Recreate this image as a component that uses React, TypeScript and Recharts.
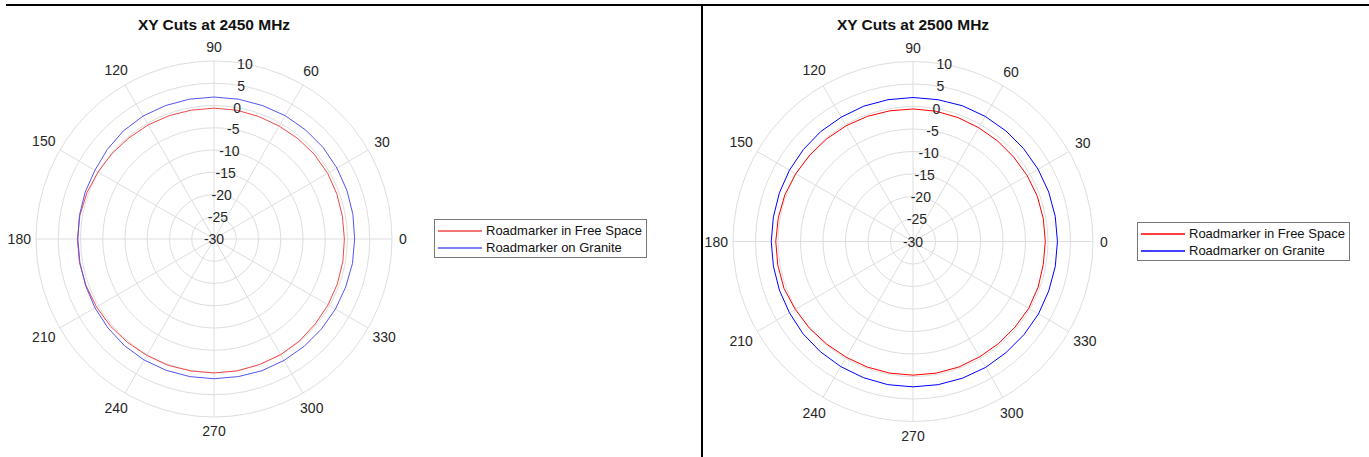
import React from 'react'
import { RadarChart, Radar, PolarGrid, PolarAngleAxis, PolarRadiusAxis, Legend } from 'recharts'

// angles in degrees, counter-clockwise from east
const angles = [0, 10, 20, 30, 40, 50, 60, 70, 80, 90, 100, 110, 120, 130, 140, 150, 160, 170,
	180, 190, 200, 210, 220, 230, 240, 250, 260, 270, 280, 290, 300, 310, 320, 330, 340, 350]

const freeSpace2450 = [-0.7, -0.7, -0.6, -0.5, -0.5, -0.6, -0.7, -0.7, -0.6, -0.6, -0.6, -0.5,
	-0.4, -0.3, -0.1, 0.1, 0.4, 0.6, 0.7, 0.7, 0.6, 0.5, 0.4, 0.3, 0.2, 0.2, 0.1, 0.1, 0.1, 0.0,
	0.0, -0.1, -0.3, -0.4, -0.5, -0.6]
const granite2450 = [1.6, 1.7, 1.8, 1.9, 2.0, 2.0, 2.0, 1.9, 1.9, 1.9, 1.9, 1.9, 1.9, 1.7, 1.3,
	0.9, 0.8, 0.7, 0.6, 0.6, 0.7, 0.9, 1.1, 1.3, 1.4, 1.4, 1.4, 1.4, 1.4, 1.5, 1.5, 1.5, 1.5, 1.5,
	1.5, 1.6]

const freeSpace2500 = [-0.6, -0.6, -0.6, -0.7, -0.8, -0.8, -0.8, -0.7, -0.6, -0.55, -0.5, -0.4,
	-0.3, -0.2, -0.1, 0.1, 0.3, 0.4, 0.5, 0.5, 0.5, 0.2, 0.0, -0.2, -0.3, -0.3, -0.3, -0.3, -0.3,
	-0.3, -0.4, -0.4, -0.4, -0.3, -0.4, -0.6]
const granite2500 = [2.1, 2.1, 2.1, 2.1, 2.1, 2.1, 2.1, 2.1, 2.0, 2.0, 2.0, 2.0, 1.9, 1.9, 1.8,
	1.7, 1.6, 1.5, 1.5, 1.5, 1.6, 1.7, 1.9, 2.0, 2.1, 2.2, 2.3, 2.3, 2.3, 2.3, 2.3, 2.2, 2.2, 2.2,
	2.1, 2.1]

const radiusTicks = [-30, -25, -20, -15, -10, -5, 0, 5, 10]
const spokeAngles = [0, 30, 60, 90, 120, 150, 180, 210, 240, 270, 300, 330]
const seriesNames = ['Roadmarker in Free Space', 'Roadmarker on Granite']

const FONT = '"Liberation Sans", Arial, Helvetica, sans-serif'
const GRID = '#dedede'
const LABEL = '#262626'

// recharts goes clockwise by default, so feed the points in reverse order
// and sweep 0 -> -360 so the plot reads counter-clockwise like MATLAB
function buildRows(a: number[], b: number[]) {
	const rows = []
	for (let i = 0; i < angles.length; i++) {
		const k = (angles.length - i) % angles.length
		rows.push({ angle: angles[k], free: a[k], granite: b[k] })
	}
	return rows
}

const makeAngleTick = (cx: number, cy: number, r: number) => (props: any) => {
	const { payload } = props
	const v = Number(payload.value)
	if (v % 30 !== 0) return null
	const rad = (payload.coordinate * Math.PI) / 180
	const c = Math.cos(rad)
	const s = Math.sin(rad)
	const w = String(v).length * 5.8
	const d = r + 8 + Math.abs(c) * w / 2 + Math.abs(s) * 6
	return (
		<text x={cx + d * c} y={cy - d * s} textAnchor="middle" dominantBaseline="central"
			fill={LABEL} fontSize={14} fontFamily={FONT}>
			{v}
		</text>
	)
}

const RadiusTick = (props: any) => {
	const { x, y, payload } = props
	return (
		<text x={x} y={y} textAnchor="middle" dominantBaseline="central"
			fill={LABEL} fontSize={14} fontFamily={FONT}>
			{payload.value}
		</text>
	)
}

const LegendBox = ({ payload, colors }: any) => (
	<div style={{
		border: '1px solid #777', background: '#fff', padding: '2px 0 1px', width: 'max-content',
		fontFamily: FONT, fontSize: 13, color: '#111'
	}}>
		{(payload || []).map((p: any, i: number) => (
			<div key={i} style={{ display: 'flex', alignItems: 'center', height: 17, paddingRight: 4 }}>
				<svg width={44} height={4} style={{ margin: '0 4px 0 3px', display: 'block' }}>
					<line x1={0} y1={2} x2={44} y2={2} stroke={colors[i]} strokeWidth={1.3} />
				</svg>
				<span style={{ whiteSpace: 'nowrap' }}>{p.value}</span>
			</div>
		))}
	</div>
)

interface PolarProps {
	title: string
	rows: any[]
	width: number
	cx: number
	cy: number
	r: number
	colors: string[]
	legendLeft: number
	legendTop: number
	legendWidth: number
}

function PolarCut({ title, rows, width, cx, cy, r, colors, legendLeft, legendTop, legendWidth }: PolarProps) {
	return (
		<div style={{ position: 'relative', width, height: 457 }}>
			<div style={{
				position: 'absolute', left: cx - 120, width: 240, top: 16, textAlign: 'center',
				fontFamily: FONT, fontWeight: 'bold', fontSize: 15.5, color: '#111'
			}}>{title}</div>
			<RadarChart width={width} height={457} data={rows} cx={cx} cy={cy} outerRadius={r}
				startAngle={0} endAngle={-360} margin={{ top: 0, right: 0, bottom: 0, left: 0 }}>
				<PolarGrid gridType="circle" stroke={GRID} polarAngles={spokeAngles} />
				<PolarAngleAxis dataKey="angle" tickLine={false} axisLine={false} tick={makeAngleTick(cx, cy, r)} />
				<PolarRadiusAxis type="number" angle={80} domain={[-30, 10]} ticks={radiusTicks}
					axisLine={false} tickLine={false} tick={<RadiusTick />} />
				<Radar dataKey="free" name={seriesNames[0]} stroke={colors[0]} strokeWidth={1}
					fill="none" fillOpacity={0} dot={false} isAnimationActive={false} />
				<Radar dataKey="granite" name={seriesNames[1]} stroke={colors[1]} strokeWidth={1}
					fill="none" fillOpacity={0} dot={false} isAnimationActive={false} />
				<Legend content={(p: any) => <LegendBox {...p} colors={colors} />}
					wrapperStyle={{ position: 'absolute', left: legendLeft, top: legendTop, width: legendWidth, bottom: 'auto' }} />
			</RadarChart>
		</div>
	)
}

export default function App() {
	return (
		<div style={{ position: 'absolute', left: 0, top: 0, width: 1369, height: 457, background: '#fff', overflow: 'hidden' }}>
			<div style={{ position: 'absolute', left: 0, top: 0 }}>
				<PolarCut title="XY Cuts at 2450 MHz" rows={buildRows(freeSpace2450, granite2450)} width={700}
					cx={214} cy={239} r={178} colors={['#f24848', '#5555f0']}
					legendLeft={434} legendTop={219} legendWidth={212} />
			</div>
			<div style={{ position: 'absolute', left: 700, top: 0 }}>
				<PolarCut title="XY Cuts at 2500 MHz" rows={buildRows(freeSpace2500, granite2500)} width={669}
					cx={213} cy={241.5} r={180} colors={['#ff0000', '#0000ff']}
					legendLeft={437} legendTop={222} legendWidth={214} />
			</div>
			<div style={{ position: 'absolute', left: 6, right: 0, top: 4, height: 2, background: '#000' }} />
			<div style={{ position: 'absolute', left: 701, top: 4, bottom: 0, width: 1.5, background: '#000' }} />
		</div>
	)
}
